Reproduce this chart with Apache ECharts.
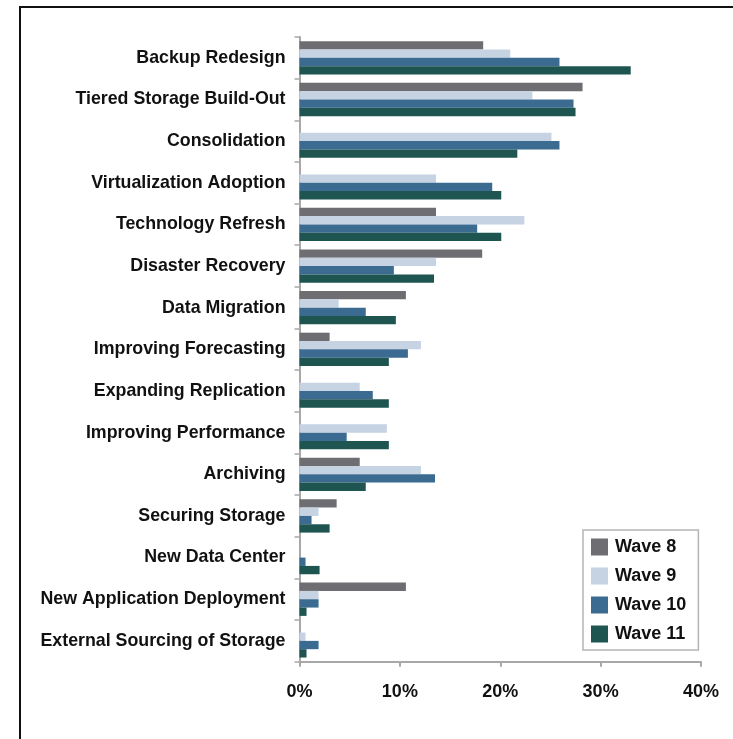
<!DOCTYPE html>
<html>
<head>
<meta charset="utf-8">
<script src="https://cdn.jsdelivr.net/npm/echarts@6/dist/echarts.min.js"></script>
<style>
html,body{margin:0;padding:0;background:#fff;}
#chart{width:733px;height:739px;}
</style>
</head>
<body>
<div id="chart"></div>
<script>
const categories = [
  'Backup Redesign',
  'Tiered Storage Build-Out',
  'Consolidation',
  'Virtualization Adoption',
  'Technology Refresh',
  'Disaster Recovery',
  'Data Migration',
  'Improving Forecasting',
  'Expanding Replication',
  'Improving Performance',
  'Archiving',
  'Securing Storage',
  'New Data Center',
  'New Application Deployment',
  'External Sourcing of Storage'
];
const seriesNames = ['Wave 8', 'Wave 9', 'Wave 10', 'Wave 11'];
const wave8  = [18.3, 28.2, 0,    0,    13.6, 18.2, 10.6, 3.0,  0,   0,   6.0,  3.7, 0,   10.6, 0];
const wave9  = [21.0, 23.2, 25.1, 13.6, 22.4, 13.6, 3.9,  12.1, 6.0, 8.7, 12.1, 1.9, 0,   1.9,  0.6];
const wave10 = [25.9, 27.3, 25.9, 19.2, 17.7, 9.4,  6.6,  10.8, 7.3, 4.7, 13.5, 1.2, 0.6, 1.9,  1.9];
const wave11 = [33.0, 27.5, 21.7, 20.1, 20.1, 13.4, 9.6,  8.9,  8.9, 8.9, 6.6,  3.0, 2.0, 0.7,  0.7];
const xTicks = [0, 10, 20, 30, 40];

const colors = ['#6e6d71', '#c6d3e3', '#3b6b91', '#1f5551'];
const values = [wave8, wave9, wave10, wave11];

const chart = echarts.init(document.getElementById('chart'), null, {renderer: 'canvas'});
const fontFam = '"Liberation Sans", Arial, Helvetica, sans-serif';

chart.setOption({
  animation: false,
  backgroundColor: '#ffffff',
  color: colors,
  graphic: [{
    type: 'rect',
    shape: {x: 20, y: 7, width: 900, height: 900},
    style: {fill: 'none', stroke: '#111', lineWidth: 2},
    silent: true
  }],
  grid: {
    left: 299.5, right: 32, top: 37, bottom: 77.3,
    containLabel: false,
    outerBoundsMode: 'none'
  },
  legend: {
    orient: 'vertical',
    left: 583, top: 530,
    width: 116,
    padding: [8, 12, 7, 8],
    itemWidth: 17, itemHeight: 17, itemGap: 11,
    borderColor: '#b5b5b5', borderWidth: 1.5,
    backgroundColor: '#fff',
    icon: 'rect',
    data: seriesNames,
    textStyle: {fontFamily: fontFam, fontWeight: 'bold', fontSize: 18, color: '#111', padding: [0, 0, 0, 2]}
  },
  xAxis: {
    type: 'value',
    min: xTicks[0], max: xTicks[xTicks.length - 1], interval: 10,
    axisLine: {show: true, lineStyle: {color: '#a8a8a8', width: 2}},
    axisTick: {show: true, length: 5, lineStyle: {color: '#a8a8a8', width: 2}},
    splitLine: {show: false},
    axisLabel: {
      formatter: '{value}%', fontFamily: fontFam, fontWeight: 'bold',
      fontSize: 18, color: '#111', margin: 21
    }
  },
  yAxis: {
    type: 'category',
    inverse: true,
    data: categories,
    axisLine: {show: true, lineStyle: {color: '#a8a8a8', width: 2}},
    axisTick: {show: true, length: 5, lineStyle: {color: '#a8a8a8', width: 1.5}},
    axisLabel: {fontFamily: fontFam, fontWeight: 'bold', fontSize: 17.8, color: '#111', margin: 14}
  },
  series: seriesNames.map((name, i) => ({
    name: name,
    type: 'bar',
    data: values[i],
    barGap: '0%',
    barCategoryGap: '20%',
    itemStyle: {color: colors[i]},
    z: 2
  }))
});
</script>
</body>
</html>
